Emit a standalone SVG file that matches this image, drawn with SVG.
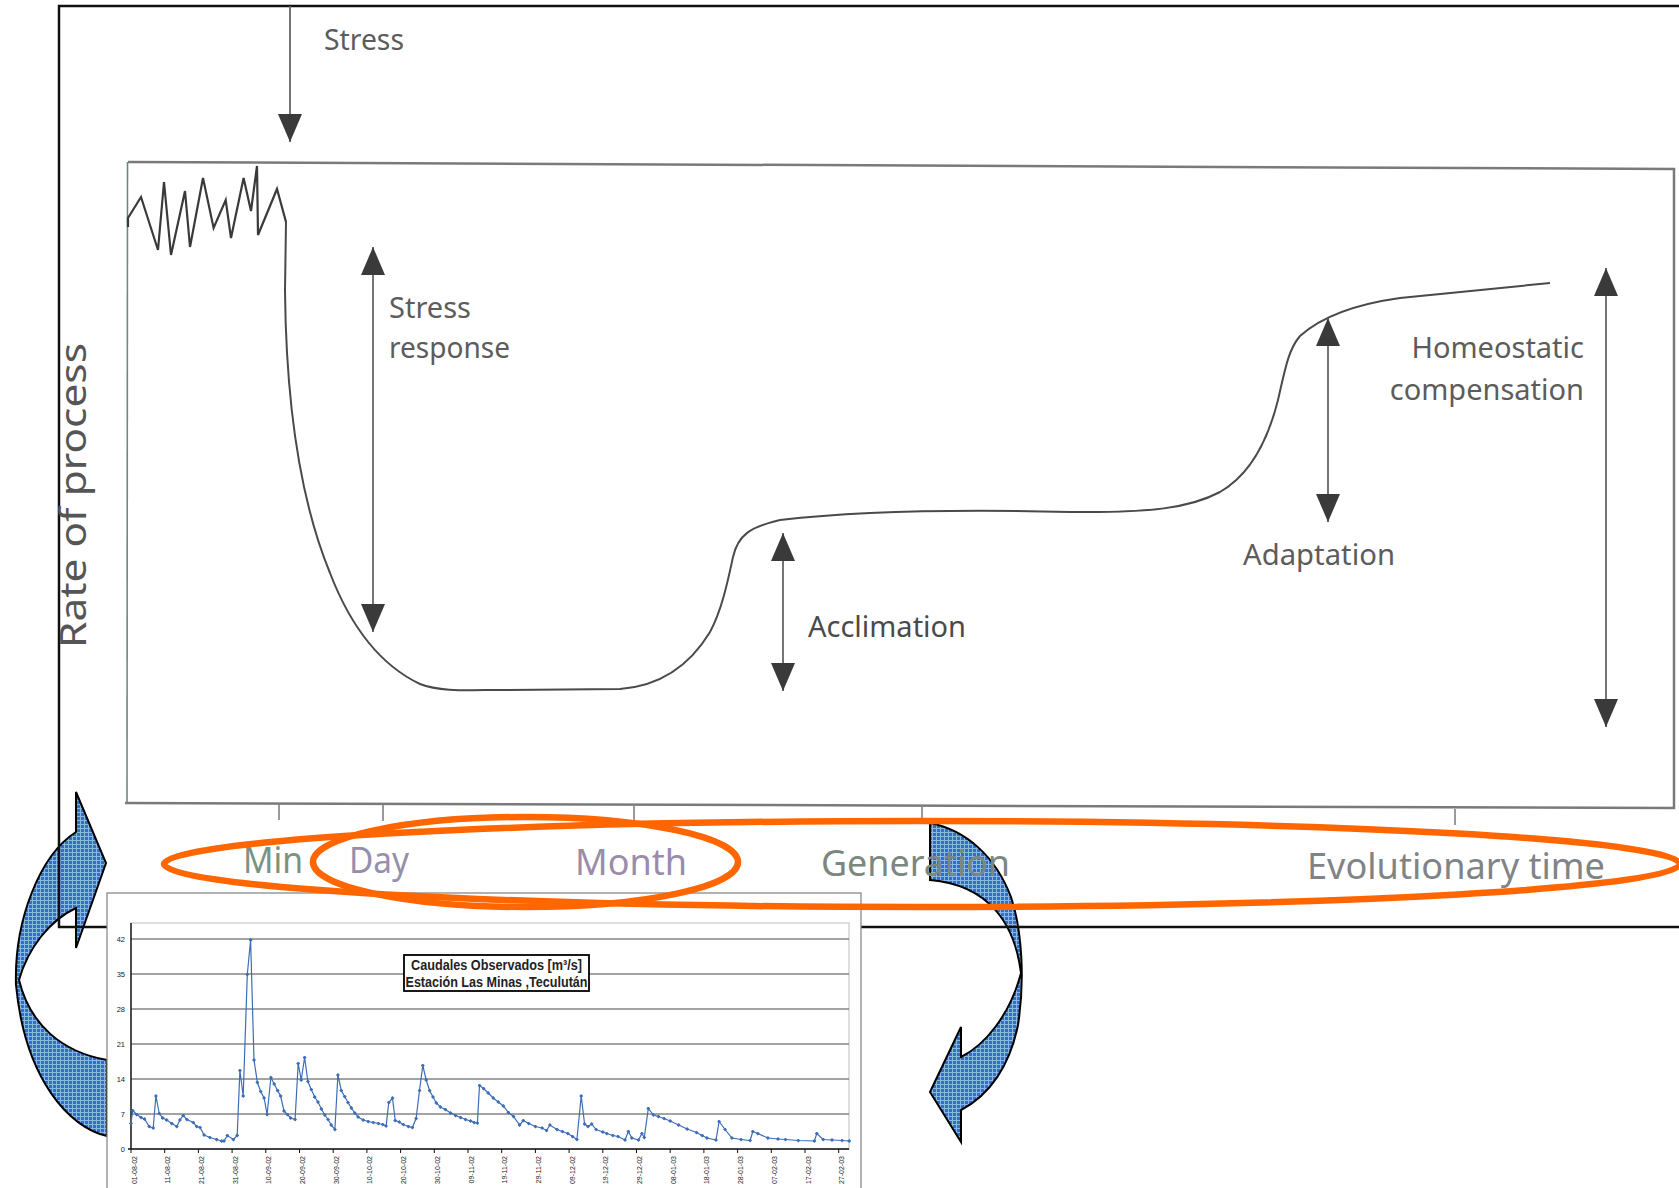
<svg xmlns="http://www.w3.org/2000/svg" width="1679" height="1188" viewBox="0 0 1679 1188">
<defs>
<style>
.lbl{font-family:"Noto Sans","Open Sans","DejaVu Sans",sans-serif;font-size:29px;fill:#5c5c5c}
.ax{font-family:"Noto Sans","Open Sans","DejaVu Sans",sans-serif;font-size:37px}
.conn{stroke:#666;stroke-width:1.8;fill:none}
.ch{font-family:"Liberation Sans",Arial,sans-serif;fill:#222}
.grid{stroke:#858585;stroke-width:1.4}
.ell{fill:none;stroke:#ff6600;stroke-width:6.5}
.barrow{fill:url(#tex);stroke:#000;stroke-width:2;stroke-linejoin:miter}
</style>
<marker id="ah" viewBox="0 0 28 24" refX="28" refY="12" markerWidth="28" markerHeight="24" markerUnits="userSpaceOnUse" orient="auto-start-reverse">
<path d="M0,0 L28,12 L0,24 Z" fill="#3a3a3a"/>
</marker>
<marker id="dot" viewBox="0 0 4 4" refX="2" refY="2" markerWidth="4" markerHeight="4" markerUnits="userSpaceOnUse">
<path d="M2,0 L4,2 L2,4 L0,2 Z" fill="#3d6db5"/>
</marker>
<pattern id="tex" width="4" height="4" patternUnits="userSpaceOnUse">
<rect width="4" height="4" fill="#2f6fc4"/>
<rect width="4" height="1" fill="#8bb6ea"/>
<rect width="1" height="4" fill="#8bb6ea"/>
</pattern>
</defs>
<rect width="1679" height="1188" fill="#fff"/>

<!-- blue curved arrows (beneath frame) -->
<g id="blue-arrow-left">
<path class="barrow" d="M107,1136 C70,1128 25,1080 16,985 C14,920 40,855 76,832 L76,792 L106,863 L76,948 L76,908 C50,920 28,948 19,980 C30,1025 62,1052 107,1060 Z"/>
</g>
<g id="blue-arrow-right">
<path class="barrow" d="M930,823 C965,830 995,855 1011,897 C1022,930 1025,980 1018,1025 C1010,1065 990,1095 961,1110 L961,1142 L930,1092 L961,1027 L961,1057 C985,1045 1010,1015 1021,973 C1015,925 990,885 930,880 Z"/>
</g>

<!-- outer black frame -->
<g id="outer-frame">
<path d="M1679,6 L59,6 L59,927 L1679,927" fill="none" stroke="#111" stroke-width="2.5"/>
</g>

<!-- inner plot frame -->
<g id="plot-frame">
<path d="M128,162 L1674,169 L1674,808 L125,803" fill="none" stroke="#7a7a7a" stroke-width="2.5"/>
<line x1="127.5" y1="162" x2="127" y2="803" stroke="#6f8a78" stroke-width="1.6"/>
<g stroke="#7f7f8a" stroke-width="1.6">
<line x1="279" y1="804" x2="279" y2="820"/>
<line x1="383" y1="805" x2="383" y2="821"/>
<line x1="634" y1="806" x2="634" y2="822"/>
<line x1="922" y1="807" x2="922" y2="823"/>
<line x1="1455" y1="809" x2="1455" y2="825"/>
</g>
</g>

<!-- y axis label -->
<g id="y-label">
<text class="lbl" transform="translate(86,648) rotate(-90)" style="font-size:36px;fill:#555" textLength="305" lengthAdjust="spacingAndGlyphs">Rate of process</text>
</g>

<!-- response curve -->
<g id="curve">
<polyline points="128,227 128,218 141,197 158,250 164,182 171,255 185,191 190,247 203,178 213.6,228 225.7,200 231,238 243.6,178 251,211 257,166 258,235 277,189 286,222" fill="none" stroke="#3a3a3a" stroke-width="2.2" stroke-linejoin="miter"/>
<path d="M286,222 L285,290 C286,400 300,500 330,573 C350,625 380,665 420,684 C440,692 470,690 500,690 L620,689 C660,686 690,665 710,632 C722,610 728,580 733,557 C738,535 750,527 780,520 C850,512 950,509 1070,512 C1150,513 1190,508 1220,492 C1250,475 1268,440 1278,400 C1285,370 1288,350 1300,336 C1320,318 1350,305 1400,298 L1550,283" fill="none" stroke="#4a4a4a" stroke-width="2"/>
</g>

<!-- connectors (arrows) -->
<g id="connectors">
<line class="conn" x1="290" y1="6" x2="290" y2="142" marker-end="url(#ah)"/>
<line class="conn" x1="373" y1="247" x2="373" y2="632" stroke="#6b7d6b" marker-start="url(#ah)" marker-end="url(#ah)"/>
<line class="conn" x1="783" y1="533" x2="783" y2="691" marker-start="url(#ah)" marker-end="url(#ah)"/>
<line class="conn" x1="1328" y1="318" x2="1328" y2="522" stroke="#6b7d6b" marker-start="url(#ah)" marker-end="url(#ah)"/>
<line class="conn" x1="1606" y1="268" x2="1606" y2="727" marker-start="url(#ah)" marker-end="url(#ah)"/>
</g>

<!-- labels -->
<g id="stress"><text class="lbl" x="324" y="50" textLength="80" lengthAdjust="spacingAndGlyphs">Stress</text></g>
<g id="stress-response">
<text class="lbl" x="389" y="318">Stress</text>
<text class="lbl" x="389" y="358" textLength="121" lengthAdjust="spacingAndGlyphs">response</text>
</g>
<g id="acclimation"><text class="lbl" x="808" y="637" style="fill:#4a4a4a" textLength="158" lengthAdjust="spacingAndGlyphs">Acclimation</text></g>
<g id="adaptation"><text class="lbl" x="1243" y="565" textLength="152" lengthAdjust="spacingAndGlyphs">Adaptation</text></g>
<g id="homeostatic">
<text class="lbl" x="1584" y="358" text-anchor="end">Homeostatic</text>
<text class="lbl" x="1584" y="400" text-anchor="end">compensation</text>
</g>

<!-- time axis labels -->
<g id="time-labels">
<text class="ax" x="243" y="873" fill="#7a927e" textLength="60" lengthAdjust="spacingAndGlyphs">Min</text>
<text class="ax" x="349" y="873" fill="#9290ac" textLength="60" lengthAdjust="spacingAndGlyphs">Day</text>
<text class="ax" x="575" y="875" fill="#9a8caa" textLength="112" lengthAdjust="spacingAndGlyphs">Month</text>
<text class="ax" x="821" y="876" fill="#7b877f" textLength="189" lengthAdjust="spacingAndGlyphs">Generation</text>
<text class="ax" x="1307" y="879" fill="#808487" textLength="298" lengthAdjust="spacingAndGlyphs">Evolutionary time</text>
</g>

<!-- embedded discharge chart -->
<g id="chart">
<rect x="107" y="893" width="754" height="310" fill="#fff" stroke="#808080" stroke-width="1.2"/>
<rect x="131" y="923" width="718" height="226" fill="#fff" stroke="#c8c8c8" stroke-width="1.2"/>
<g class="grid">
<line x1="131" y1="939" x2="849" y2="939"/>
<line x1="131" y1="974" x2="849" y2="974"/>
<line x1="131" y1="1009" x2="849" y2="1009"/>
<line x1="131" y1="1044" x2="849" y2="1044"/>
<line x1="131" y1="1079" x2="849" y2="1079"/>
<line x1="131" y1="1114" x2="849" y2="1114"/>
</g>
<line x1="131" y1="923" x2="131" y2="1149" stroke="#111" stroke-width="1.4"/>
<line x1="128" y1="1149" x2="849" y2="1149" stroke="#111" stroke-width="1.4"/>
<g class="ch" font-size="7.5" text-anchor="end">
<text x="125" y="941.5">42</text>
<text x="125" y="976.5">35</text>
<text x="125" y="1011.5">28</text>
<text x="125" y="1046.5">21</text>
<text x="125" y="1081.5">14</text>
<text x="125" y="1116.5">7</text>
<text x="125" y="1151.5">0</text>
</g>
<g stroke="#111" stroke-width="1">
<line x1="131" y1="1149" x2="131" y2="1153"/><line x1="164.7" y1="1149" x2="164.7" y2="1153"/><line x1="198.4" y1="1149" x2="198.4" y2="1153"/><line x1="232.1" y1="1149" x2="232.1" y2="1153"/><line x1="265.8" y1="1149" x2="265.8" y2="1153"/><line x1="299.5" y1="1149" x2="299.5" y2="1153"/><line x1="333.2" y1="1149" x2="333.2" y2="1153"/><line x1="366.9" y1="1149" x2="366.9" y2="1153"/><line x1="400.6" y1="1149" x2="400.6" y2="1153"/><line x1="434.3" y1="1149" x2="434.3" y2="1153"/><line x1="468" y1="1149" x2="468" y2="1153"/><line x1="501.7" y1="1149" x2="501.7" y2="1153"/><line x1="535.4" y1="1149" x2="535.4" y2="1153"/><line x1="569.1" y1="1149" x2="569.1" y2="1153"/><line x1="602.8" y1="1149" x2="602.8" y2="1153"/><line x1="636.5" y1="1149" x2="636.5" y2="1153"/><line x1="670.2" y1="1149" x2="670.2" y2="1153"/><line x1="703.9" y1="1149" x2="703.9" y2="1153"/><line x1="737.6" y1="1149" x2="737.6" y2="1153"/><line x1="771.3" y1="1149" x2="771.3" y2="1153"/><line x1="805" y1="1149" x2="805" y2="1153"/><line x1="838.7" y1="1149" x2="838.7" y2="1153"/>
</g>
<g class="ch" font-size="7" text-anchor="end">
<text transform="translate(136.5,1156) rotate(-90)">01-08-02</text>
<text transform="translate(170.2,1156) rotate(-90)">11-08-02</text>
<text transform="translate(203.9,1156) rotate(-90)">21-08-02</text>
<text transform="translate(237.6,1156) rotate(-90)">31-08-02</text>
<text transform="translate(271.3,1156) rotate(-90)">10-09-02</text>
<text transform="translate(305,1156) rotate(-90)">20-09-02</text>
<text transform="translate(338.7,1156) rotate(-90)">30-09-02</text>
<text transform="translate(372.4,1156) rotate(-90)">10-10-02</text>
<text transform="translate(406.1,1156) rotate(-90)">20-10-02</text>
<text transform="translate(439.8,1156) rotate(-90)">30-10-02</text>
<text transform="translate(473.5,1156) rotate(-90)">09-11-02</text>
<text transform="translate(507.2,1156) rotate(-90)">19-11-02</text>
<text transform="translate(540.9,1156) rotate(-90)">29-11-02</text>
<text transform="translate(574.6,1156) rotate(-90)">09-12-02</text>
<text transform="translate(608.3,1156) rotate(-90)">19-12-02</text>
<text transform="translate(642,1156) rotate(-90)">29-12-02</text>
<text transform="translate(675.7,1156) rotate(-90)">08-01-03</text>
<text transform="translate(709.4,1156) rotate(-90)">18-01-03</text>
<text transform="translate(743.1,1156) rotate(-90)">28-01-03</text>
<text transform="translate(776.8,1156) rotate(-90)">07-02-03</text>
<text transform="translate(810.5,1156) rotate(-90)">17-02-03</text>
<text transform="translate(844.2,1156) rotate(-90)">27-02-03</text>
</g>
<polyline fill="none" stroke="#3d6db5" stroke-width="1.2" marker-start="url(#dot)" marker-mid="url(#dot)" marker-end="url(#dot)" points="131.0,1123.5 132.7,1110.5 136.7,1114.5 141.1,1117.5 144.5,1119.0 149.2,1126.5 153.2,1128.0 155.9,1096.0 159.3,1113.5 162.7,1118.0 166.7,1120.0 171.8,1123.5 176.8,1126.5 179.9,1120.0 183.2,1115.5 186.9,1119.5 193.3,1122.5 196.7,1126.5 200.1,1127.5 204.1,1135.0 209.9,1137.5 216.6,1139.5 221.7,1141.0 224.0,1141.0 227.4,1135.5 233.4,1139.5 237.2,1135.5 239.9,1070.5 243.2,1096.0 247.3,974.5 250.6,940.0 254.0,1060.0 257.4,1082.5 260.7,1091.5 264.1,1098.0 267.1,1114.5 270.9,1077.5 274.2,1084.0 277.6,1090.5 280.6,1096.0 284.0,1111.0 287.4,1114.5 290.7,1118.0 295.1,1119.5 298.2,1063.5 301.2,1080.0 304.6,1057.5 307.9,1081.5 311.3,1089.5 314.7,1097.0 318.0,1102.0 321.4,1109.0 324.8,1115.0 328.1,1119.5 331.2,1125.0 334.9,1129.5 337.9,1075.0 341.3,1090.5 344.7,1096.5 348.0,1102.5 351.4,1108.0 354.8,1113.0 358.1,1117.0 363.2,1120.0 368.2,1121.5 373.3,1122.5 378.4,1123.5 382.7,1124.5 386.1,1126.0 388.8,1102.5 392.5,1098.0 395.2,1120.5 399.3,1122.0 403.3,1124.5 408.4,1126.5 412.4,1127.5 416.1,1118.5 419.5,1090.5 422.8,1065.5 426.2,1080.0 429.6,1090.5 433.0,1097.0 436.3,1103.0 440.4,1107.0 445.4,1109.5 450.5,1113.0 455.5,1115.5 460.6,1117.5 465.6,1119.5 470.7,1121.0 474.1,1122.5 477.4,1123.0 479.5,1085.5 483.5,1088.5 488.2,1093.0 493.3,1098.0 498.3,1102.0 503.4,1106.0 508.4,1112.5 513.5,1116.5 519.6,1125.0 523.3,1120.5 528.7,1123.5 535.4,1126.5 542.1,1128.0 546.5,1130.5 549.9,1125.0 557.0,1129.5 562.4,1131.5 567.8,1133.5 572.5,1136.5 576.9,1139.5 581.2,1096.0 584.6,1124.0 588.0,1126.5 591.7,1124.0 596.1,1129.5 602.8,1132.0 606.8,1133.5 612.9,1135.5 618.0,1136.5 625.0,1140.0 628.4,1131.5 631.8,1138.0 638.5,1140.0 641.9,1133.5 644.3,1137.5 648.3,1108.5 653.4,1115.0 658.4,1116.5 664.1,1118.5 670.2,1121.0 678.6,1125.0 687.1,1129.0 696.5,1132.5 702.2,1135.5 706.9,1138.0 716.0,1140.0 719.1,1121.5 725.1,1129.5 731.9,1138.0 741.0,1139.5 750.1,1140.5 752.8,1131.5 757.8,1133.5 767.9,1138.0 778.0,1139.0 785.5,1139.5 798.3,1140.5 814.4,1141.0 816.8,1133.5 823.2,1139.5 832.0,1140.0 842.1,1140.5 849.2,1141.0"/>
<g id="chart-title">
<rect x="404" y="955" width="185" height="36" fill="#fff" stroke="#000" stroke-width="1.8"/>
<text class="ch" x="496.5" y="970" font-size="14" font-weight="bold" text-anchor="middle" fill="#000" textLength="171" lengthAdjust="spacingAndGlyphs">Caudales Observados [m³/s]</text>
<text class="ch" x="496.5" y="986.5" font-size="14" font-weight="bold" text-anchor="middle" fill="#000" textLength="182" lengthAdjust="spacingAndGlyphs">Estación Las Minas ,Teculután</text>
</g>
</g>

<!-- orange ellipses -->
<g id="highlight-ellipses">
<ellipse class="ell" cx="922" cy="864" rx="758" ry="43"/>
<ellipse class="ell" cx="525.5" cy="862" rx="212.5" ry="45"/>
</g>
</svg>
